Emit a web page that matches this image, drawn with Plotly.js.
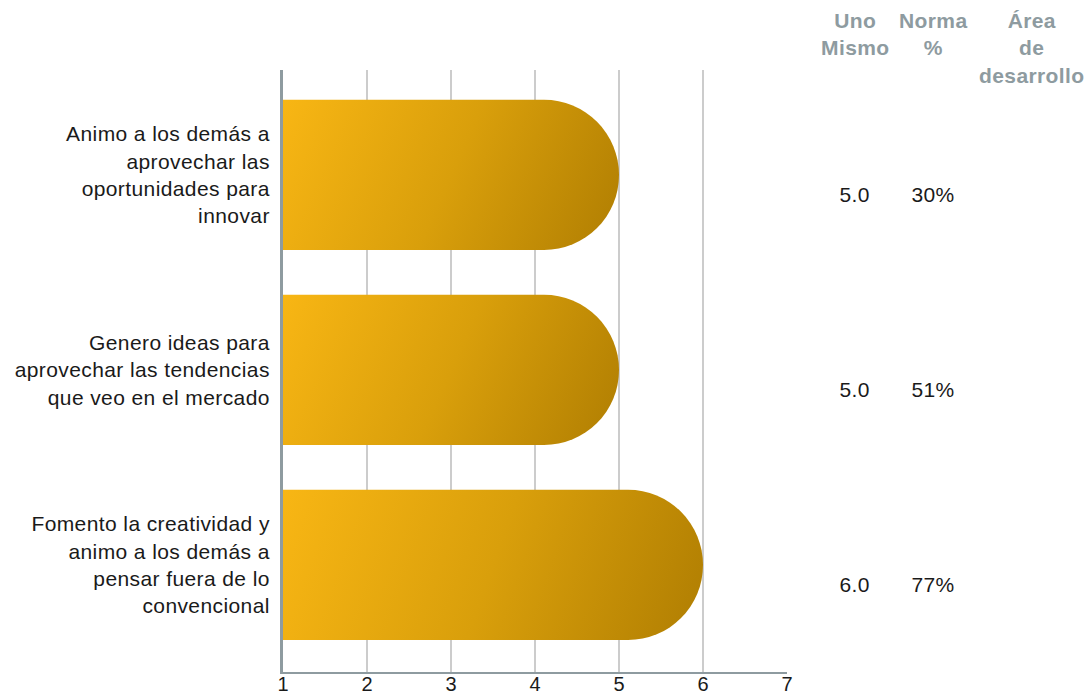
<!DOCTYPE html>
<html>
<head>
<meta charset="utf-8">
<script src="https://cdn.plot.ly/plotly-3.0.1.min.js"></script>
<style>
html,body{margin:0;padding:0;background:#fff;}
#chart{width:1088px;height:695px;}
#chart .ytick text, #chart .annotation-text { letter-spacing: 0.4px; }
</style>
</head>
<body>
<div id="chart"></div>
<script>
// ---- data ----
const categories = [
  "Animo a los demás a<br>aprovechar las<br>oportunidades para<br>innovar",
  "Genero ideas para<br>aprovechar las tendencias<br>que veo en el mercado",
  "Fomento la creatividad y<br>animo a los demás a<br>pensar fuera de lo<br>convencional"
];
const scores = [5.0, 5.0, 6.0];          // Uno Mismo
const scoreLabels = ["5.0", "5.0", "6.0"];
const normaLabels = ["30%", "51%", "77%"];
const tableHeaders = ["Uno<br>Mismo", "Norma<br>%", "Área<br>de<br>desarrollo"];
const xTicks = [1, 2, 3, 4, 5, 6, 7];

const FONT = "Liberation Sans, Arial, sans-serif";

const trace = {
  type: "bar",
  orientation: "h",
  y: categories,
  x: scores,
  marker: { color: "#D89C0A", cornerradius: "50%", line: { width: 0 } },
  hoverinfo: "skip"
};

const headerX = [1.135, 1.29, 1.486];
const annotations = [];
tableHeaders.forEach((h, i) => {
  annotations.push({
    text: h, xref: "paper", yref: "paper", x: headerX[i], y: 1.105,
    xanchor: "center", yanchor: "top", showarrow: false, align: "center",
    font: { family: FONT, size: 21, color: "#8E9BA0", weight: "bold" }
  });
});
categories.forEach((c, i) => {
  annotations.push({
    text: scoreLabels[i], xref: "paper", yref: "y", x: 1.134, y: c, yshift: -20,
    xanchor: "center", yanchor: "middle", showarrow: false,
    font: { family: FONT, size: 21, color: "#1a1a1a" }
  });
  annotations.push({
    text: normaLabels[i], xref: "paper", yref: "y", x: 1.29, y: c, yshift: -20,
    xanchor: "center", yanchor: "middle", showarrow: false,
    font: { family: FONT, size: 21, color: "#1a1a1a" }
  });
});

const layout = {
  width: 1088, height: 695,
  margin: { l: 283, r: 301, t: 70, b: 23 },
  paper_bgcolor: "#fff", plot_bgcolor: "#fff",
  showlegend: false,
  bargap: 0.23,
  font: { family: FONT, color: "#1a1a1a" },
  xaxis: {
    range: [1, 7], tickvals: xTicks, ticktext: xTicks.map(String),
    showgrid: true, gridcolor: "#CCCCCC", gridwidth: 2,
    zeroline: false, showline: true, linecolor: "#8E9BA0", linewidth: 2,
    ticks: "", ticklabelstandoff: -7,
    tickfont: { family: FONT, size: 20, color: "#1a1a1a" },
    automargin: false, fixedrange: true
  },
  yaxis: {
    type: "category", range: [2.549, -0.538],
    showgrid: false, zeroline: false,
    showline: true, linecolor: "#8E9BA0", linewidth: 3,
    ticks: "", ticklabelstandoff: 6,
    tickfont: { family: FONT, size: 21, color: "#1a1a1a" },
    automargin: false, fixedrange: true
  },
  annotations: annotations
};

Plotly.newPlot("chart", [trace], layout, { staticPlot: true, displayModeBar: false }).then(gd => {
  const svg = gd.querySelector(".main-svg");
  const ns = "http://www.w3.org/2000/svg";
  let defs = svg.querySelector("defs");
  if (!defs) { defs = document.createElementNS(ns, "defs"); svg.insertBefore(defs, svg.firstChild); }
  const xa = gd._fullLayout.xaxis;
  const x0 = xa.l2p(xa.range[0]);
  gd.querySelectorAll(".bars .point path").forEach((p, i) => {
    const bb = p.getBBox();
    const x1 = bb.x + bb.width;
    const g = document.createElementNS(ns, "linearGradient");
    g.setAttribute("id", "barGrad" + i);
    g.setAttribute("gradientUnits", "userSpaceOnUse");
    g.setAttribute("x1", x0); g.setAttribute("y1", bb.y);
    g.setAttribute("x2", x1); g.setAttribute("y2", bb.y + bb.height);
    [["0", "#F8B614"], ["0.5", "#D99F0B"], ["1", "#B07E02"]].forEach(([o, c]) => {
      const s = document.createElementNS(ns, "stop");
      s.setAttribute("offset", o); s.setAttribute("stop-color", c);
      g.appendChild(s);
    });
    defs.appendChild(g);
    p.style.fill = "url(#barGrad" + i + ")";
  });
});
</script>
</body>
</html>
